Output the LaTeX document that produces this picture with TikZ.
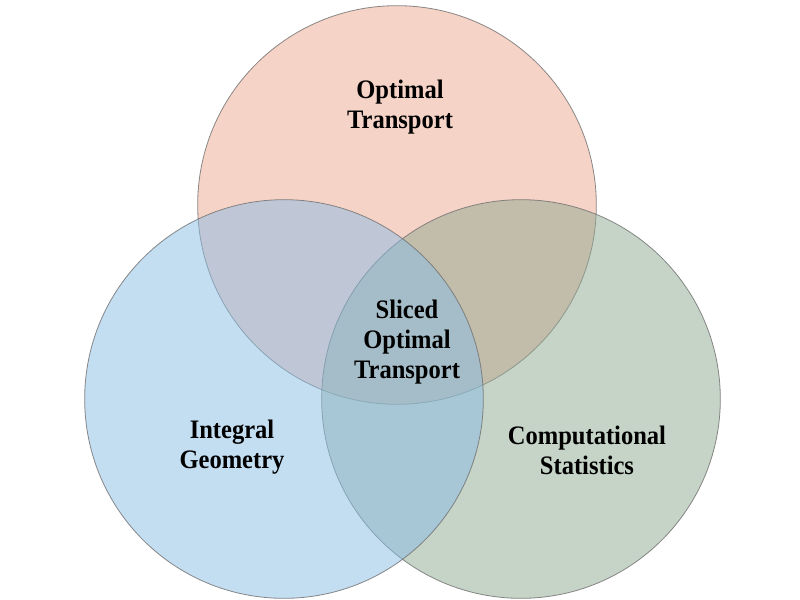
\documentclass[tikz,border=0pt]{standalone}
\usepackage{fontspec}
\setmainfont{Liberation Serif}[FakeStretch=0.92]
\usepackage{tikz}
\usetikzlibrary{positioning}
\definecolor{rosa}{RGB}{239, 169, 145}
\definecolor{azul}{RGB}{137, 189, 229}
\definecolor{verde}{RGB}{143, 169, 145}
\definecolor{borde}{RGB}{110, 110, 110}
\tikzset{
    circ/.style={circle, draw=borde, line width=0.6pt, fill opacity=0.5, draw opacity=0.8, minimum size=299pt, inner sep=0pt, outer sep=0pt},
    lbl/.style={align=center, inner sep=0pt, text=black, font=\fontsize{20}{22.5}\selectfont\bfseries},
}
\begin{document}
\begin{tikzpicture}[x=0.75pt, y=-0.75pt]
    \fill[white] (0,0) rectangle (800,600);
    \useasboundingbox (0,0) rectangle (800,600);
    % circles
    \node[circ, fill=rosa] (ot) at (397,205) {};
    \node[circ, fill=verde] (cs) at (521,399) {};
    \node[circ, fill=azul] (ig) at (284,399) {};
    % labels
    \node[lbl] (tOT) at (400,107) {Optimal\\Transport};
    \node[lbl] (tSOT) at (407,342) {Sliced\\Optimal\\Transport};
    \node[lbl] (tIG) at (232,447) {Integral\\Geometry};
    \node[lbl] (tCS) at (587,450) {Computational\\Statistics};
\end{tikzpicture}
\end{document}
